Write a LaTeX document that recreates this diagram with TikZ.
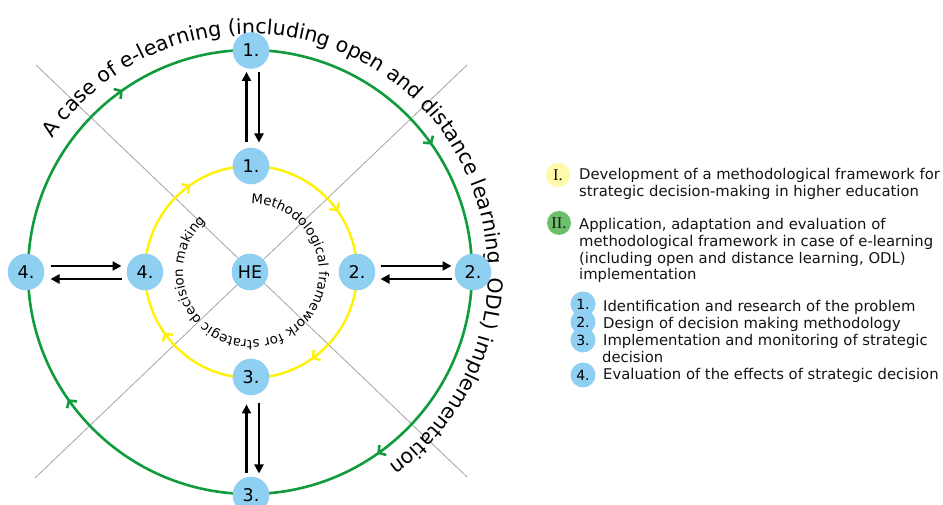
\documentclass[tikz,border=0pt]{standalone}
\usepackage{fontspec}
\setmainfont{DejaVu Sans}
\newfontfamily\romanfont{Liberation Serif}
\usetikzlibrary{arrows.meta,decorations.text,decorations.markings}
\definecolor{nodeblue}{RGB}{143,207,242}
\definecolor{ringgreen}{RGB}{16,155,60}
\definecolor{ringyellow}{RGB}{255,242,0}
\definecolor{legyellow}{RGB}{255,249,170}
\definecolor{leggreen}{RGB}{108,192,108}
\definecolor{diaggray}{RGB}{165,165,165}
\definecolor{legtextcol}{RGB}{20,20,20}
\begin{document}
\begin{tikzpicture}[x=1pt,y=1pt,
  stepnode/.style={circle,fill=nodeblue,minimum size=36.6pt,inner sep=0pt,font=\fontsize{17.5}{20}\selectfont},
  legcirc/.style={circle,minimum size=24pt,inner sep=0pt,font=\romanfont\fontsize{16.5}{18}\selectfont,text=legtextcol},
  numcirc/.style={circle,fill=nodeblue,minimum size=25pt,inner sep=0pt,font=\fontsize{14}{16}\selectfont},
  legline/.style={anchor=base west,inner sep=0pt,font=\fontsize{14.8}{17}\selectfont,text=legtextcol},
  diagline/.style={draw=diaggray,line width=0.8pt},
  link/.style={-{Triangle[length=9pt,width=9pt]},line width=2.2pt},
  ringbarb/.tip={Straight Barb[length=5pt,width=12pt]},
]
\useasboundingbox (0,0) rectangle (943,505);
\clip (0,0) rectangle (943,505);
\fill[white] (0,0) rectangle (943,505);

% centres
\coordinate (C) at (250,233);
\coordinate (Cy) at (251,233);

% diagonal guide lines
\coordinate (d1a) at (36,440);
\coordinate (d1b) at (467,28);
\coordinate (d2a) at (467,440);
\coordinate (d2b) at (35,27);
\draw[diagline] (d1a) -- (d1b);
\draw[diagline] (d2a) -- (d2b);

% green ring
\draw[ringgreen,line width=2.6pt,postaction={decorate},
  decoration={markings,
    mark=at position 0.1528 with {\arrow{ringbarb}},
    mark=at position 0.4028 with {\arrow{ringbarb}},
    mark=at position 0.6528 with {\arrow{ringbarb}},
    mark=at position 0.9028 with {\arrow{ringbarb}}}]
  (C) ++(90:222) arc[start angle=90,end angle=-270,radius=222];

% yellow ring
\draw[ringyellow,line width=2.4pt,postaction={decorate},
  decoration={markings,
    mark=at position 0.1528 with {\arrow{ringbarb}},
    mark=at position 0.4028 with {\arrow{ringbarb}},
    mark=at position 0.6528 with {\arrow{ringbarb}},
    mark=at position 0.9028 with {\arrow{ringbarb}}}]
  (Cy) ++(90:106) arc[start angle=90,end angle=-270,radius=106];

% ring texts
\path[decorate,decoration={text along path,
  text={|\fontsize{20.5}{24}\selectfont|A case of e-learning (including open and distance learning, ODL) implementation}}]
  (C) ++(146:238) arc[start angle=146,end angle=-110,radius=238];
\path[decorate,decoration={text along path,
  text={|\fontsize{13.4}{16}\selectfont|Methodological framework for strategic decision making}}]
  (Cy) ++(90:68) arc[start angle=90,end angle=-265,radius=68];

% step nodes
\node[stepnode] (he) at (250,233) {HE};
\node[stepnode] (o1) at (251,454.5) {1.};
\node[stepnode] (o2) at (473,233) {2.};
\node[stepnode] (o3) at (251,10) {3.};
\node[stepnode] (o4) at (26,233) {4.};
\node[stepnode] (i1) at (251,339) {1.};
\node[stepnode] (i2) at (357,233) {2.};
\node[stepnode] (i3) at (251,128) {3.};
\node[stepnode] (i4) at (145,233) {4.};

% arrows between rings
\draw[link,shorten <=5pt,shorten >=3pt] ([xshift=-4.5pt]i1.north) -- ([xshift=-4.5pt]o1.south);
\draw[link,shorten <=3pt,shorten >=5pt] ([xshift=8pt]o1.south) -- ([xshift=8pt]i1.north);
\draw[link,shorten <=5pt,shorten >=3pt] ([yshift=6pt]i2.east) -- ([yshift=6pt]o2.west);
\draw[link,shorten <=3pt,shorten >=5pt] ([yshift=-7pt]o2.west) -- ([yshift=-7pt]i2.east);
\draw[link,shorten <=3pt,shorten >=9pt] ([xshift=-4.5pt]o3.north) -- ([xshift=-4.5pt]i3.south);
\draw[link,shorten <=8pt,shorten >=3pt] ([xshift=8pt]i3.south) -- ([xshift=8pt]o3.north);
\draw[link,shorten <=6pt,shorten >=5pt] ([yshift=6pt]o4.east) -- ([yshift=6pt]i4.west);
\draw[link,shorten <=5pt,shorten >=6pt] ([yshift=-7pt]i4.west) -- ([yshift=-7pt]o4.east);

% legend
\node[legcirc,fill=legyellow] (cI) at (558,330) {I.};
\node[legline] (tI1) at (579,325) {Development of a methodological framework for};
\node[legline] (tI2) at (579,308.3) {strategic decision-making in higher education};

\node[legcirc,fill=leggreen] (cII) at (559,282) {II.};
\node[legline] (tII1) at (579,275) {Application, adaptation and evaluation of};
\node[legline] (tII2) at (579,258.3) {methodological framework in case of e-learning};
\node[legline] (tII3) at (579,241.7) {(including open and distance learning, ODL)};
\node[legline] (tII4) at (579,225) {implementation};

\node[numcirc] (n1) at (583,201) {1.};
\node[numcirc] (n2) at (583,183) {2.};
\node[numcirc] (n3) at (583,165) {3.};
\node[numcirc] (n4) at (583,130) {4.};
\node[legline] (t1) at (603,193.3) {Identification and research of the problem};
\node[legline] (t2) at (603,176) {Design of decision making methodology};
\node[legline] (t3a) at (603,159.3) {Implementation and monitoring of strategic};
\node[legline] (t3b) at (602,142.7) {decision};
\node[legline] (t4) at (603,125) {Evaluation of the effects of strategic decision};
\end{tikzpicture}
\end{document}
